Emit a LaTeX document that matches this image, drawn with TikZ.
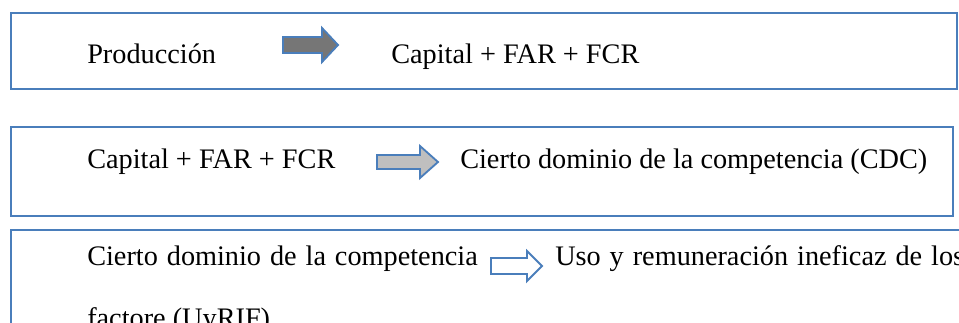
\documentclass[tikz,border=0pt]{standalone}
\usepackage{fontspec}
\setmainfont{Liberation Serif}
\usepackage{tikz}

\definecolor{marco}{RGB}{74,126,187}
\definecolor{flechaosc}{RGB}{118,118,118}
\definecolor{flechaclr}{RGB}{191,191,191}

\tikzset{
  caja/.style={draw=marco,line width=1.6pt,fill=white},
  texto/.style={anchor=base west,inner sep=0pt,font=\fontsize{21.2}{25}\selectfont},
  justif/.style={texto,execute at begin node={\spaceskip=6.7pt plus 1pt}},
  flecha/.style={draw=marco,line width=1.4pt,line join=miter}
}

\begin{document}
\begin{tikzpicture}[x=0.75pt,y=-0.75pt]
        \clip (0,0) rectangle (959,322);
        \fill [white] (0,0) rectangle (959,322);
        % cajas
        \draw [caja] (11,13) rectangle (957,89);
        \draw [caja] (11,127) rectangle (953,216);
        \draw [caja] (11,230) rectangle (975,345);
        % fila 1
        \node [texto] (prod) at (87,63) {Producción};
        \draw [flecha,fill=flechaosc] (283,37) -- (322,37) -- (322,28) -- (338,45) -- (322,62) -- (322,53) -- (283,53) -- cycle;
        \node [texto] (cap1) at (391,63) {Capital + FAR + FCR};
        % fila 2
        \node [texto] (cap2) at (87,168) {Capital + FAR + FCR};
        \draw [flecha,fill=flechaclr] (377,155) -- (420,155) -- (420,146) -- (438,162) -- (420,178) -- (420,169) -- (377,169) -- cycle;
        \node [texto] (cdc) at (460,168) {Cierto dominio de la competencia (CDC)};
        % fila 3
        \node [justif] (cdc3) at (87,265) {Cierto dominio de la competencia};
        \draw [flecha,fill=white] (491,258) -- (527,258) -- (527,251) -- (542,266) -- (527,281) -- (527,274) -- (491,274) -- cycle;
        \node [justif] (uso) at (555,265) {Uso y remuneración ineficaz de los};
        \node [texto] (fact) at (87,327) {factore (UyRIF)};
\end{tikzpicture}
\end{document}
